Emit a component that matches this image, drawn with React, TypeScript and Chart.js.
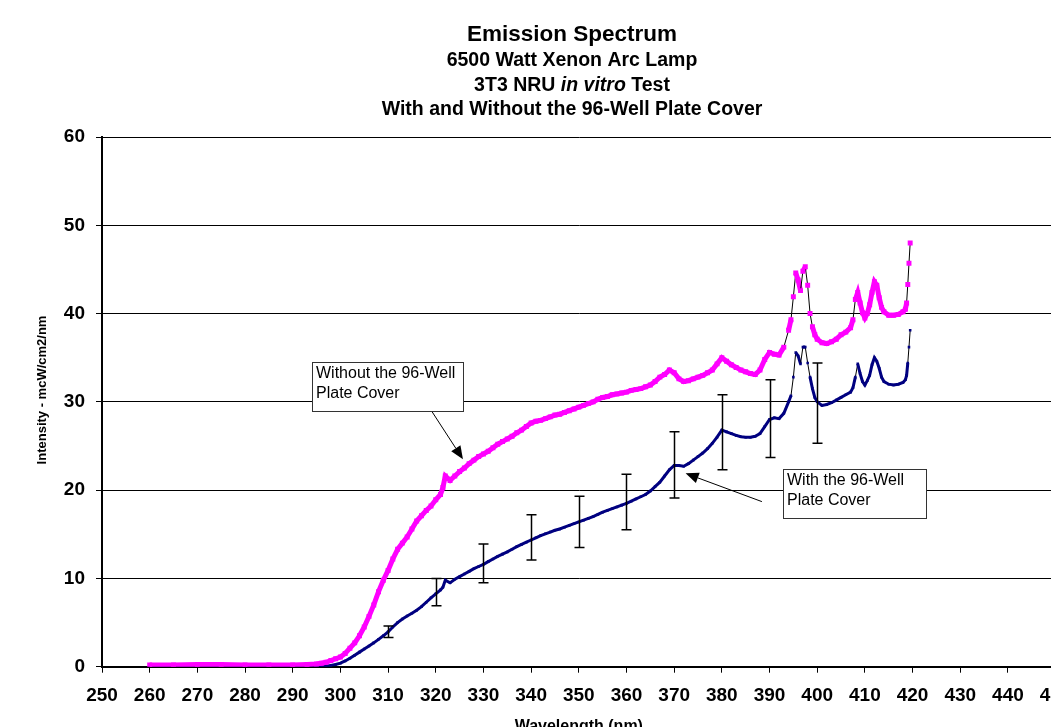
import React, { useEffect, useRef } from 'react';
import { Chart, registerables } from 'chart.js';

Chart.register(...registerables);

// ---------------- data ----------------
const wavelengthNm = [
  260, 265, 270, 275, 280, 285, 290, 293, 295, 296, 297, 298, 299,
  300, 301, 302, 303, 304, 305, 306, 307, 308, 309,
  310, 311, 312, 313, 314, 315, 316, 317, 318, 319,
  320, 321, 321.5, 322, 323, 324, 325, 326, 327, 328, 329,
  330, 331, 332, 333, 334, 335, 336, 337, 338, 339,
  340, 341, 342, 343, 344, 345, 346, 347, 348, 349,
  350, 351, 352, 353, 354, 355, 356, 357, 358, 359,
  360, 361, 362, 363, 364, 365, 366, 367, 368, 369,
  370, 371, 372, 373, 374, 375, 376, 377, 378, 379,
  380, 381, 382, 383, 384, 385, 386, 387, 388, 389,
  390, 391, 392, 393, 394,
  394.5, 395, 395.5, 396, 396.5, 397, 397.5, 398, 398.5, 399, 399.5,
  400, 401, 402, 403, 404, 405, 406, 407,
  407.5, 408, 408.5, 409, 409.5, 410, 410.5, 411, 411.5, 412, 412.5, 413, 413.5,
  414, 415, 416, 417, 418,
  418.5, 418.75, 419, 419.25, 419.5,
];

const withoutCoverValues = [
  0.2, 0.2, 0.25, 0.25, 0.2, 0.2, 0.2, 0.25, 0.3, 0.4, 0.5, 0.7, 0.9,
  1.1, 1.5, 2.1, 2.7, 3.5, 4.5, 5.7, 7.0, 8.5, 9.8,
  10.9, 12.2, 13.3, 14.0, 14.7, 15.6, 16.5, 17.1, 17.7, 18.2,
  18.9, 19.5, 20.3, 21.6, 21.1, 21.6, 22.1, 22.5, 23.0, 23.4, 23.8,
  24.1, 24.4, 24.8, 25.2, 25.5, 25.8, 26.1, 26.5, 26.8, 27.2,
  27.6, 27.8, 27.9, 28.1, 28.3, 28.5, 28.6, 28.8, 29.0, 29.2,
  29.4, 29.6, 29.8, 30.0, 30.3, 30.5, 30.6, 30.8, 30.9, 31.0,
  31.1, 31.3, 31.4, 31.5, 31.7, 31.9, 32.3, 32.8, 33.1, 33.6,
  33.3, 32.6, 32.3, 32.4, 32.6, 32.8, 33.0, 33.3, 33.6, 34.3,
  35.0, 34.6, 34.2, 33.9, 33.6, 33.4, 33.2, 33.1, 33.6, 34.8,
  35.6, 35.4, 35.3, 36.2, 38.1,
  39.3, 41.9, 44.6, 43.8, 42.6, 44.8, 45.3, 43.2, 40.0, 38.5, 37.6,
  37.1, 36.7, 36.6, 36.8, 37.1, 37.6, 37.9, 38.4,
  39.3, 41.6, 42.4, 41.2, 40.1, 39.5, 40.0, 41.0, 42.4, 43.6, 43.2, 41.8, 40.7,
  40.2, 39.8, 39.8, 39.9, 40.2,
  40.5, 41.2, 43.3, 45.7, 48.0,
];

const withCoverValues = [
  0.05, 0.05, 0.05, 0.05, 0.05, 0.05, 0.05, 0.05, 0.05, 0.05, 0.08, 0.15, 0.25,
  0.4, 0.65, 0.95, 1.3, 1.65, 2.0, 2.35, 2.7, 3.1, 3.5,
  3.95, 4.5, 5.0, 5.4, 5.75, 6.05, 6.4, 6.8, 7.3, 7.8,
  8.25, 8.7, 9.0, 9.8, 9.5, 9.9, 10.2, 10.5, 10.8, 11.1, 11.35,
  11.6, 11.9, 12.2, 12.5, 12.75, 13.0, 13.3, 13.6, 13.85, 14.1,
  14.35, 14.6, 14.85, 15.05, 15.25, 15.45, 15.6, 15.8, 16.0, 16.2,
  16.4, 16.6, 16.8, 17.0, 17.25, 17.5, 17.7, 17.9, 18.1, 18.3,
  18.5, 18.75, 19.0, 19.25, 19.5, 19.9, 20.4, 20.9, 21.6, 22.3,
  22.8, 22.8, 22.7, 23.0, 23.4, 23.8, 24.2, 24.7, 25.3, 26.0,
  26.8, 26.6, 26.4, 26.2, 26.05, 26.0, 26.0, 26.1, 26.4, 27.2,
  28.0, 28.2, 28.1, 28.7, 30.0,
  30.7, 32.8, 35.6, 35.2, 34.3, 36.2, 36.2, 34.4, 32.8, 31.5, 30.5,
  30.0, 29.6, 29.7, 29.9, 30.2, 30.5, 30.8, 31.1,
  31.6, 32.8, 34.3, 33.2, 32.3, 31.9, 32.4, 33.0, 34.2, 35.0, 34.6, 33.8, 32.8,
  32.3, 32.0, 31.9, 32.0, 32.2,
  32.5, 33.0, 34.4, 36.2, 38.1,
];

const errorBarNm = [310, 320, 330, 340, 350, 360, 370, 380, 390, 400];
const errorBarLow = [3.3, 6.9, 9.5, 12.1, 13.5, 15.5, 19.1, 22.3, 23.7, 25.3];
const errorBarHigh = [4.6, 10.0, 13.9, 17.2, 19.3, 21.8, 26.6, 30.8, 32.5, 34.4];

const xAxisMin = 250;
const xAxisMax = 450;
const xAxisStep = 10;
const yAxisMin = 0;
const yAxisMax = 60;
const yAxisStep = 10;

const titleLines = [
  [{ text: 'Emission Spectrum', italic: false }],
  [{ text: '6500 Watt Xenon Arc Lamp', italic: false }],
  [
    { text: '3T3 NRU ', italic: false },
    { text: 'in vitro', italic: true },
    { text: ' Test', italic: false },
  ],
  [{ text: 'With and Without the 96-Well Plate Cover', italic: false }],
];
const xAxisTitle = 'Wavelength (nm)';
const yAxisTitle = 'Intensity - mcW/cm2/nm';
const seriesNames = ['Without the 96-Well Plate Cover', 'With the 96-Well Plate Cover'];

// callouts: box anchored (top-left) in data units, arrow from -> tip in data units
const calloutLines = [
  ['Without the 96-Well', 'Plate Cover'],
  ['With the 96-Well', 'Plate Cover'],
];
const calloutBoxAnchor = [
  { nm: 294.1, value: 34.5 },
  { nm: 392.9, value: 22.4 },
];
const calloutArrowFrom = [
  { nm: 319.2, value: 28.9 },
  { nm: 388.4, value: 18.7 },
];
const calloutArrowTip = [
  { nm: 325.7, value: 23.5 },
  { nm: 372.4, value: 21.9 },
];

// ---------------- styles ----------------
const FONT = '"Liberation Sans", Arial, Helvetica, sans-serif';
const MAGENTA = '#FF00FF';
const NAVY = '#000080';
const CANVAS_W = 1120;
const CANVAS_H = 760;
const TITLE_STYLE = [
  { size: 22.5, y: 35 },
  { size: 19.5, y: 61 },
  { size: 19.5, y: 86 },
  { size: 19.5, y: 110 },
];
const TITLE_CX = 572;
const Y_TITLE_POS = { x: 42, y: 390, size: 13 };
const CALLOUT_SIZE = [
  { w: 151, h: 49 },
  { w: 143, h: 49 },
];

function isSteep(c: any) {
  const dx = Math.abs(c.p1.x - c.p0.x);
  const dy = Math.abs(c.p1.y - c.p0.y);
  return dy > 3 * dx && Math.hypot(dx, dy) > 13;
}

const decorPlugin = {
  id: 'decor',
  afterDatasetsDraw(chart: any) {
    const { ctx, scales } = chart;
    const xs = scales.x;
    const ys = scales.y;
    ctx.save();
    ctx.strokeStyle = '#000';
    ctx.lineWidth = 1.5;
    for (let i = 0; i < errorBarNm.length; i++) {
      const x = Math.round(xs.getPixelForValue(errorBarNm[i])) + 0.5;
      const y0 = ys.getPixelForValue(errorBarLow[i]);
      const y1 = ys.getPixelForValue(errorBarHigh[i]);
      ctx.beginPath();
      ctx.moveTo(x, y0);
      ctx.lineTo(x, y1);
      ctx.moveTo(x - 5, y0);
      ctx.lineTo(x + 5, y0);
      ctx.moveTo(x - 5, y1);
      ctx.lineTo(x + 5, y1);
      ctx.stroke();
    }
    ctx.restore();
  },
  afterDraw(chart: any) {
    const { ctx, scales } = chart;
    const xs = scales.x;
    const ys = scales.y;
    ctx.save();
    // callouts
    for (let i = 0; i < calloutLines.length; i++) {
      const left = Math.round(xs.getPixelForValue(calloutBoxAnchor[i].nm));
      const top = Math.round(ys.getPixelForValue(calloutBoxAnchor[i].value));
      const { w, h } = CALLOUT_SIZE[i];
      const fx = xs.getPixelForValue(calloutArrowFrom[i].nm);
      const fy = ys.getPixelForValue(calloutArrowFrom[i].value);
      const tx = xs.getPixelForValue(calloutArrowTip[i].nm);
      const ty = ys.getPixelForValue(calloutArrowTip[i].value);
      const ang = Math.atan2(ty - fy, tx - fx);
      const len = 13;
      const hw = 5.5;
      const bx = tx - Math.cos(ang) * len;
      const by = ty - Math.sin(ang) * len;
      ctx.strokeStyle = '#000';
      ctx.lineWidth = 1;
      ctx.beginPath();
      ctx.moveTo(fx, fy);
      ctx.lineTo(bx, by);
      ctx.stroke();
      ctx.fillStyle = '#000';
      ctx.beginPath();
      ctx.moveTo(tx, ty);
      ctx.lineTo(bx - Math.sin(ang) * hw, by + Math.cos(ang) * hw);
      ctx.lineTo(bx + Math.sin(ang) * hw, by - Math.cos(ang) * hw);
      ctx.closePath();
      ctx.fill();
      ctx.fillStyle = '#fff';
      ctx.fillRect(left, top, w, h);
      ctx.strokeStyle = '#333';
      ctx.lineWidth = 1;
      ctx.strokeRect(left + 0.5, top + 0.5, w, h);
      ctx.fillStyle = '#000';
      ctx.font = `16px ${FONT}`;
      ctx.textBaseline = 'middle';
      ctx.textAlign = 'left';
      calloutLines[i].forEach((t, j) => {
        ctx.fillText(t, left + 4, top + 11.5 + j * 20.5);
      });
    }
    // y-axis title
    ctx.save();
    ctx.translate(Y_TITLE_POS.x, Y_TITLE_POS.y);
    ctx.rotate(-Math.PI / 2);
    ctx.fillStyle = '#000';
    ctx.font = `bold ${Y_TITLE_POS.size}px ${FONT}`;
    ctx.textAlign = 'center';
    ctx.textBaseline = 'middle';
    ctx.fillText(yAxisTitle, 0, 0);
    ctx.restore();
    // titles
    ctx.fillStyle = '#000';
    ctx.textBaseline = 'middle';
    ctx.textAlign = 'left';
    titleLines.forEach((runs, i) => {
      const st = TITLE_STYLE[i];
      const fonts = runs.map((r) => `${r.italic ? 'italic ' : ''}bold ${st.size}px ${FONT}`);
      let total = 0;
      const widths = runs.map((r, k) => {
        ctx.font = fonts[k];
        const wdt = ctx.measureText(r.text).width;
        total += wdt;
        return wdt;
      });
      let x = TITLE_CX - total / 2;
      runs.forEach((r, k) => {
        ctx.font = fonts[k];
        ctx.fillText(r.text, x, st.y);
        x += widths[k];
      });
    });
    ctx.restore();
  },
};

export default function App() {
  const ref = useRef<HTMLCanvasElement>(null);

  useEffect(() => {
    const canvas = ref.current;
    if (!canvas) return;
    const withoutData = wavelengthNm.map((x, i) => ({ x, y: withoutCoverValues[i] }));
    const withData = wavelengthNm.map((x, i) => ({ x, y: withCoverValues[i] }));

    const chart = new Chart(canvas, {
      type: 'line',
      data: {
        datasets: [
          {
            label: seriesNames[0],
            data: withoutData,
            borderColor: MAGENTA,
            borderWidth: 5,
            pointStyle: 'rect',
            pointRadius: 3.5,
            pointHoverRadius: 3.5,
            pointBackgroundColor: MAGENTA,
            pointBorderColor: MAGENTA,
            pointBorderWidth: 0,
            tension: 0,
            fill: false,
            segment: {
              borderColor: (c: any) => (isSteep(c) ? '#000000' : MAGENTA),
              borderWidth: (c: any) => (isSteep(c) ? 1 : 5),
            },
          } as any,
          {
            label: seriesNames[1],
            data: withData,
            borderColor: NAVY,
            borderWidth: 3,
            pointStyle: 'rect',
            pointRadius: 1.8,
            pointHoverRadius: 1.8,
            pointBackgroundColor: NAVY,
            pointBorderColor: NAVY,
            pointBorderWidth: 0,
            tension: 0,
            fill: false,
            segment: {
              borderColor: (c: any) => (isSteep(c) ? '#000000' : NAVY),
              borderWidth: (c: any) => (isSteep(c) ? 1 : 3),
            },
          } as any,
        ],
      },
      options: {
        responsive: false,
        maintainAspectRatio: false,
        animation: false,
        devicePixelRatio: 1,
        events: [],
        layout: { padding: { top: 137, right: CANVAS_W - 1055.6, bottom: 0, left: 0 } },
        plugins: {
          legend: { display: false },
          tooltip: { enabled: false },
          title: { display: false },
        },
        scales: {
          x: {
            type: 'linear',
            min: xAxisMin,
            max: xAxisMax,
            ticks: {
              stepSize: xAxisStep,
              autoSkip: false,
              maxRotation: 0,
              color: '#000',
              padding: 12,
              font: { family: FONT, size: 19, weight: 'bold' },
            },
            grid: {
              display: true,
              drawOnChartArea: false,
              drawTicks: true,
              tickLength: 6,
              color: '#000',
              lineWidth: 1,
            },
            border: { display: true, color: '#000', width: 2 },
            title: {
              display: true,
              text: xAxisTitle,
              color: '#000',
              font: { family: FONT, size: 16, weight: 'bold' },
              padding: { top: 0, bottom: 24 },
            },
            afterFit: (s: any) => {
              s.height = CANVAS_H - 666.7;
            },
          },
          y: {
            min: yAxisMin,
            max: yAxisMax,
            ticks: {
              stepSize: yAxisStep,
              color: '#000',
              padding: 11,
              font: { family: FONT, size: 19, weight: 'bold' },
            },
            grid: {
              color: '#000',
              lineWidth: 1,
              drawTicks: true,
              tickLength: 6,
            },
            border: { display: true, color: '#000', width: 2 },
            title: { display: false },
            afterFit: (s: any) => {
              s.width = 102;
            },
          },
        },
      } as any,
      plugins: [decorPlugin],
    });
    return () => chart.destroy();
  }, []);

  return (
    <div
      style={{
        position: 'fixed',
        left: 0,
        top: 0,
        width: 1051,
        height: 727,
        overflow: 'hidden',
        background: '#fff',
      }}
    >
      <canvas
        ref={ref}
        width={CANVAS_W}
        height={CANVAS_H}
        style={{ display: 'block', width: CANVAS_W, height: CANVAS_H }}
      />
    </div>
  );
}
